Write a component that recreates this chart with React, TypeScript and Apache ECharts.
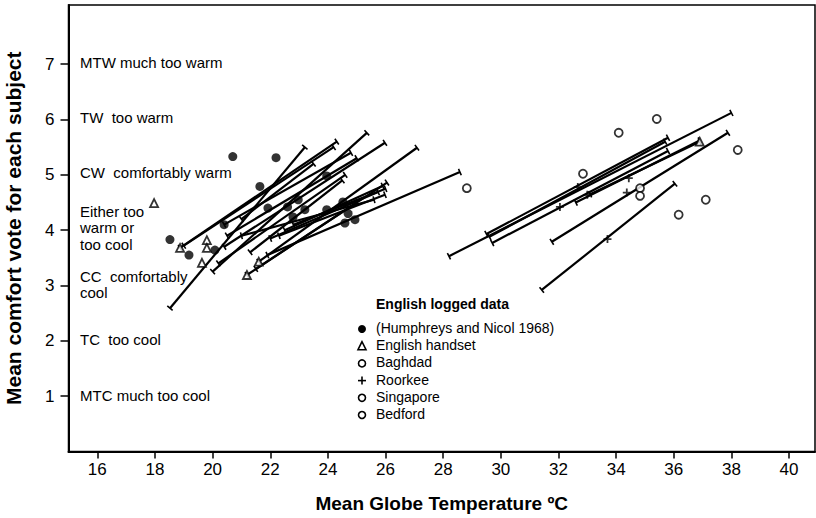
import React, { useEffect, useRef } from "react";
import * as echarts from "echarts";

const FONT = "'Liberation Sans Narrow', 'Arial Narrow', 'Liberation Sans', Arial, sans-serif";

const xTicks = [16, 18, 20, 22, 24, 26, 28, 30, 32, 34, 36, 38, 40];
const yTicks = [1, 2, 3, 4, 5, 6, 7];

// Humphreys and Nicol 1968 (filled circles)
const humphreysX = [20.7, 22.2, 21.64, 23.96, 18.52, 19.18, 20.08, 22.97, 21.92, 22.6, 23.2, 22.79, 23.96, 24.52, 24.59, 24.94, 20.4, 24.7];
const humphreysY = [5.33, 5.31, 4.79, 4.98, 3.83, 3.55, 3.64, 4.55, 4.4, 4.42, 4.37, 4.24, 4.37, 4.51, 4.13, 4.19, 4.1, 4.3];

// English handset (open triangles)
const handsetX = [17.97, 18.87, 19.8, 19.8, 19.63, 21.19, 21.6, 36.9];
const handsetY = [4.49, 3.68, 3.82, 3.68, 3.41, 3.19, 3.43, 5.6];

// Open circles
const baghdadX = [34.09, 35.41, 38.22];
const baghdadY = [5.76, 6.01, 5.45];
const singaporeX = [34.83, 34.83, 37.11, 36.17];
const singaporeY = [4.76, 4.62, 4.55, 4.28];
const bedfordX = [28.82, 32.85];
const bedfordY = [4.76, 5.02];

// Roorkee (+)
const roorkeeX = [32.05, 32.67, 33.0, 34.37, 34.44, 33.7];
const roorkeeY = [4.42, 4.78, 4.64, 4.68, 4.94, 3.84];

// Regression lines [x1, y1, x2, y2]
const englishLines = [
  [18.87, 3.68, 24.31, 5.6],
  [19.0, 3.72, 24.2, 5.5],
  [18.52, 2.59, 23.2, 5.5],
  [20.0, 3.25, 25.35, 5.76],
  [21.19, 3.19, 26.05, 4.86],
  [21.6, 3.43, 27.09, 5.49],
  [21.9, 3.55, 28.58, 5.05],
  [20.4, 3.7, 25.98, 5.58],
  [22.3, 3.9, 25.98, 4.64],
  [20.4, 4.1, 24.8, 5.4],
  [21.0, 3.9, 25.6, 4.55],
  [22.0, 3.85, 25.74, 4.69],
  [20.5, 3.9, 25.0, 5.3],
  [21.3, 3.6, 24.5, 4.9],
  [22.5, 4.0, 25.9, 4.8],
  [21.0, 4.2, 23.5, 5.2],
  [20.2, 3.4, 24.6, 5.0],
  [22.8, 4.1, 26.0, 4.75],
  [21.5, 3.3, 25.0, 4.5],
];
const tropicalLines = [
  [28.2, 3.53, 38.0, 6.12],
  [29.5, 3.93, 35.8, 5.67],
  [29.6, 3.88, 35.7, 5.6],
  [29.7, 3.77, 35.8, 5.43],
  [31.77, 3.79, 37.88, 5.76],
  [31.42, 2.92, 36.04, 4.84],
  [33.1, 4.65, 36.9, 5.6],
  [32.6, 4.5, 36.9, 5.62],
];

const zoneLabels = [
  { lines: ["MTW much too warm"], y: 63 },
  { lines: ["TW  too warm"], y: 118 },
  { lines: ["CW  comfortably warm"], y: 173 },
  { lines: ["Either too", "warm or", "too cool"], y: 228 },
  { lines: ["CC  comfortably", "cool"], y: 285 },
  { lines: ["TC  too cool"], y: 340 },
  { lines: ["MTC much too cool"], y: 396 },
];

const legendNames = ["(Humphreys and Nicol 1968)", "English handset", "Baghdad", "Roorkee", "Singapore", "Bedford"];
const legendMarks = ["dot", "triangle", "circle", "plus", "circle", "circle"];

function zip(xs: number[], ys: number[]) {
  return xs.map((x, i) => [x, ys[i]]);
}

function renderSegment(params: any, api: any) {
  const p1 = api.coord([api.value(0), api.value(1)]);
  const p2 = api.coord([api.value(2), api.value(3)]);
  const dx = p2[0] - p1[0];
  const dy = p2[1] - p1[1];
  const len = Math.hypot(dx, dy) || 1;
  const nx = (-dy / len) * 3.5;
  const ny = (dx / len) * 3.5;
  const cap = (p: number[]) => ({
    type: "line",
    shape: { x1: p[0] - nx, y1: p[1] - ny, x2: p[0] + nx, y2: p[1] + ny },
    style: { stroke: "#000", lineWidth: 1.6 },
  });
  return {
    type: "group",
    children: [
      { type: "line", shape: { x1: p1[0], y1: p1[1], x2: p2[0], y2: p2[1] }, style: { stroke: "#000", lineWidth: 2.2 } },
      cap(p1),
      cap(p2),
    ],
  };
}

export default function App() {
  const ref = useRef<HTMLDivElement>(null);
  useEffect(() => {
    if (!ref.current) return;
    const chart = echarts.init(ref.current, null, { renderer: "svg" });

    const graphic: any[] = [];
    zoneLabels.forEach((z) => {
      const n = z.lines.length;
      z.lines.forEach((t, i) => {
        graphic.push({
          type: "text",
          left: 80,
          top: z.y + (i - (n - 1) / 2) * 16.5 - 8,
          style: { text: t, fill: "#000", font: `15px ${FONT}` },
        });
      });
    });
    graphic.push({
      type: "text",
      left: 376,
      top: 297,
      style: { text: "English logged data", fill: "#000", font: `bold 14px ${FONT}` },
    });
    legendNames.forEach((name, i) => {
      const cy = 329 + i * 17.2;
      const mk = legendMarks[i];
      if (mk === "dot") {
        graphic.push({ type: "circle", shape: { cx: 362, cy, r: 4 }, style: { fill: "#000" } });
      } else if (mk === "circle") {
        graphic.push({ type: "circle", shape: { cx: 362, cy, r: 3.5 }, style: { fill: "#fff", stroke: "#000", lineWidth: 1.6 } });
      } else if (mk === "triangle") {
        graphic.push({
          type: "polygon",
          shape: { points: [[362, cy - 4.5], [358, cy + 3.5], [366, cy + 3.5]] },
          style: { fill: "#fff", stroke: "#000", lineWidth: 1.6 },
        });
      } else {
        graphic.push({ type: "line", shape: { x1: 358, y1: cy, x2: 366, y2: cy }, style: { stroke: "#000", lineWidth: 1.6 } });
        graphic.push({ type: "line", shape: { x1: 362, y1: cy - 4, x2: 362, y2: cy + 4 }, style: { stroke: "#000", lineWidth: 1.6 } });
      }
      graphic.push({
        type: "text",
        left: 376,
        top: cy - 8,
        style: { text: name, fill: "#000", font: `14px ${FONT}` },
      });
    });

    const openCircle = { color: "#fff", borderColor: "#000", borderWidth: 1.8 };

    chart.setOption({
      animation: false,
      backgroundColor: "#fff",
      grid: {
        left: 68.5,
        right: 1,
        top: 5,
        bottom: 66.5,
        show: true,
        borderColor: "#000",
        borderWidth: 1.5,
        containLabel: false,
        outerBoundsMode: "none",
      },
      xAxis: {
        type: "value",
        min: 15,
        max: 40.9,
        name: "Mean Globe Temperature ºC",
        nameLocation: "middle",
        nameGap: 42,
        nameTextStyle: { fontFamily: FONT, fontWeight: "bold", fontSize: 19, color: "#000" },
        axisLine: { show: true, lineStyle: { color: "#000", width: 2 } },
        axisTick: { show: true, length: 7, customValues: xTicks, lineStyle: { color: "#000", width: 1.5 } },
        axisLabel: { customValues: xTicks, margin: 9, fontFamily: FONT, fontSize: 17, color: "#000" },
        splitLine: { show: false },
      },
      yAxis: {
        type: "value",
        min: 0,
        max: 8.07,
        name: "Mean comfort vote for each subject",
        nameLocation: "middle",
        nameGap: 45,
        nameTextStyle: { fontFamily: FONT, fontWeight: "bold", fontSize: 21, color: "#000" },
        axisLine: { show: true, lineStyle: { color: "#000", width: 2 } },
        axisTick: { show: true, length: 8, customValues: yTicks, lineStyle: { color: "#000", width: 1.5 } },
        axisLabel: { customValues: yTicks, margin: 14, fontFamily: FONT, fontSize: 17, color: "#000" },
        splitLine: { show: false },
      },
      graphic,
      series: [
        {
          type: "custom",
          name: "English lines",
          renderItem: renderSegment,
          encode: { x: [0, 2], y: [1, 3] },
          data: englishLines,
          z: 2,
        },
        {
          type: "custom",
          name: "Tropical lines",
          renderItem: renderSegment,
          encode: { x: [0, 2], y: [1, 3] },
          data: tropicalLines,
          z: 2,
        },
        {
          type: "scatter",
          name: "(Humphreys and Nicol 1968)",
          symbol: "circle",
          symbolSize: 9,
          itemStyle: { color: "#000" },
          data: zip(humphreysX, humphreysY),
          z: 3,
        },
        {
          type: "scatter",
          name: "English handset",
          symbol: "triangle",
          symbolSize: 8,
          itemStyle: openCircle,
          data: zip(handsetX, handsetY),
          z: 3,
        },
        {
          type: "scatter",
          name: "Baghdad",
          symbol: "circle",
          symbolSize: 8,
          itemStyle: openCircle,
          data: zip(baghdadX, baghdadY),
          z: 3,
        },
        {
          type: "scatter",
          name: "Roorkee",
          symbol: "path://M0,5 L10,5 M5,0 L5,10",
          symbolSize: 8,
          itemStyle: { color: "none", borderColor: "#000", borderWidth: 1.8 },
          data: zip(roorkeeX, roorkeeY),
          z: 3,
        },
        {
          type: "scatter",
          name: "Singapore",
          symbol: "circle",
          symbolSize: 8,
          itemStyle: openCircle,
          data: zip(singaporeX, singaporeY),
          z: 3,
        },
        {
          type: "scatter",
          name: "Bedford",
          symbol: "circle",
          symbolSize: 8,
          itemStyle: openCircle,
          data: zip(bedfordX, bedfordY),
          z: 3,
        },
      ],
    });
    return () => chart.dispose();
  }, []);
  return <div ref={ref} style={{ width: 816, height: 518, position: "absolute", left: 0, top: 0 }} />;
}
